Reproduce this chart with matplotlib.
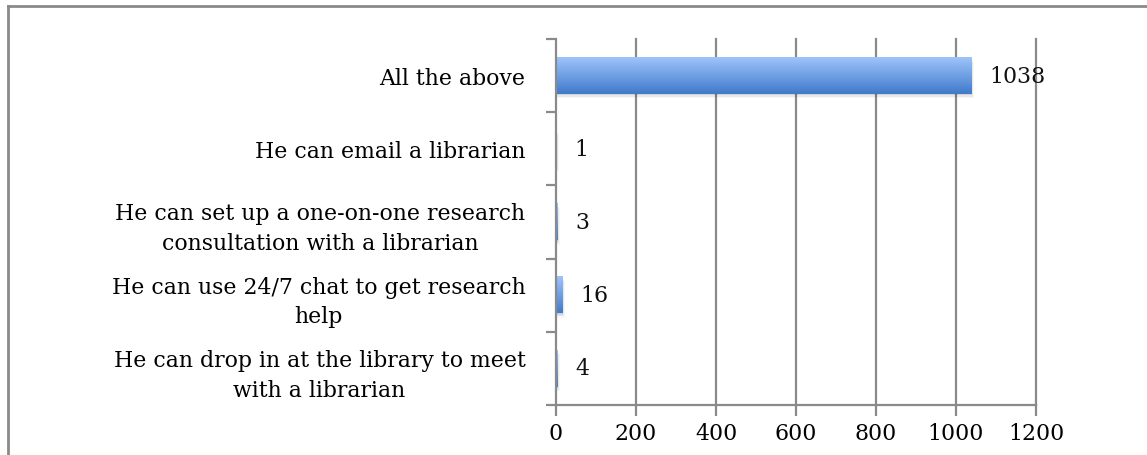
import matplotlib.pyplot as plt
import numpy as np
from matplotlib.patches import Rectangle
from matplotlib.lines import Line2D

# survey responses, bottom to top
labels = [
    "He can drop in at the library to meet\nwith a librarian",
    "He can use 24/7 chat to get research\nhelp",
    "He can set up a one-on-one research\nconsultation with a librarian",
    "He can email a librarian",
    "All the above",
]
counts = [4, 16, 3, 1, 1038]
xticks = [0, 200, 400, 600, 800, 1000, 1200]

plt.rcParams['font.family'] = ['DejaVu Serif']
FS = 15.8

W, H = 1147, 456
fig = plt.figure(figsize=(W / 100, H / 100), dpi=100)
ax = fig.add_axes([556 / W, 1 - 406 / H, 480 / W, 366 / H])

ypos = np.arange(len(counts))
bar_h = 0.5

# vertical gridlines
for x in xticks[1:]:
    ax.axvline(x, color='#8a8a8a', lw=1.6, zorder=0, clip_on=False)

# gradient bars with a soft drop shadow
grad = np.linspace(0, 1, 64)
top = np.array([0.62, 0.77, 0.98])
bot = np.array([0.25, 0.48, 0.80])
img = (top + (bot - top) * grad[:, None]).reshape(64, 1, 3)
for y, v in zip(ypos, counts):
    for k, a in enumerate([0.09, 0.06, 0.03]):
        d = 1 + k
        sh = Rectangle((0, y - bar_h / 2 - 0.02 * d), v + 2 * d, bar_h,
                       facecolor='black', alpha=a, lw=0, zorder=1)
        ax.add_patch(sh)
    ax.imshow(img, extent=(0, v, y - bar_h / 2, y + bar_h / 2), aspect='auto',
              zorder=2, interpolation='bilinear')
    ax.annotate(str(v), (v, y), xytext=(13, 0), textcoords='offset points',
                va='center', ha='left', fontsize=FS, color='#111111')
ax.set_xlim(0, 1200)
ax.set_ylim(-0.5, len(counts) - 0.5)

ax.set_yticks(ypos)
ax.set_yticklabels(labels, fontsize=FS, multialignment='center', linespacing=1.45)
ax.tick_params(axis='y', length=0, pad=22)
# category boundary ticks
ax.set_yticks(np.arange(-0.5, len(counts)), minor=True)
ax.tick_params(axis='y', which='minor', length=7, width=1.6, color='#8a8a8a', direction='out')

ax.set_xticks(xticks)
ax.set_xticklabels([str(x) for x in xticks], fontsize=FS)
ax.tick_params(axis='x', length=8, width=1.6, color='#8a8a8a', direction='out', pad=4)

for s in ['top', 'right']:
    ax.spines[s].set_visible(False)
for s in ['left', 'bottom']:
    ax.spines[s].set_color('#8a8a8a')
    ax.spines[s].set_linewidth(1.6)

# outer chart frame
fig.add_artist(Line2D([8 / W, 1.0], [1 - 7 / H, 1 - 7 / H], color='#8a8a8a', lw=2,
                      transform=fig.transFigure))
fig.add_artist(Line2D([8 / W, 8 / W], [0, 1 - 7 / H], color='#8a8a8a', lw=2,
                      transform=fig.transFigure))

fig.savefig('out.png', dpi=100)
